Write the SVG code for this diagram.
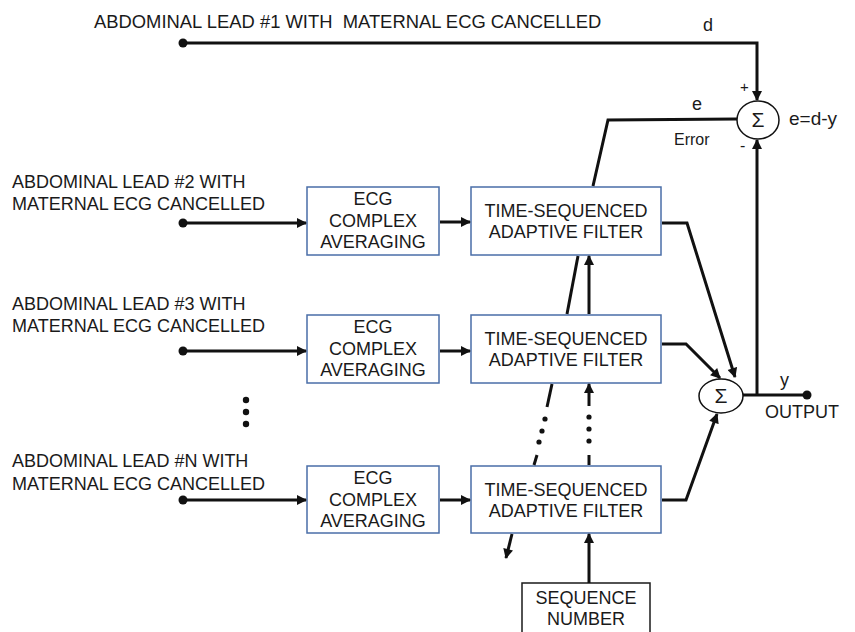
<svg xmlns="http://www.w3.org/2000/svg" width="855" height="632" viewBox="0 0 855 632">
<style>
text{font-family:"Liberation Sans",Arial,sans-serif;font-size:18px;fill:#1a1a1a}
.box{fill:#fff;stroke:#4a6ea8;stroke-width:1.5}
.sbox{fill:#fff;stroke:#1a1a1a;stroke-width:1.5}
.ln{fill:none;stroke:#111;stroke-width:3}
.arr{marker-end:url(#ah)}
.c{text-anchor:middle}
.sum{fill:#fff;stroke:#111;stroke-width:1.5}
.sig{font-size:21px}
</style>
<defs>
<marker id="ah" viewBox="0 0 10 10" refX="9" refY="5" markerWidth="11" markerHeight="10" markerUnits="userSpaceOnUse" orient="auto">
<path d="M0,0 L10,5 L0,10 z" fill="#111"/>
</marker>
</defs>
<rect width="855" height="632" fill="#fff"/>

<g id="lead1-label">
<text x="94" y="28" style="white-space:pre;font-size:18.4px">ABDOMINAL LEAD #1 WITH  MATERNAL ECG CANCELLED</text>
<text x="708" y="31" class="c">d</text>
</g>
<g id="lead2-label">
<text x="12" y="188">ABDOMINAL LEAD #2 WITH</text>
<text x="12" y="210">MATERNAL ECG CANCELLED</text>
</g>
<g id="lead3-label">
<text x="12" y="310">ABDOMINAL LEAD #3 WITH</text>
<text x="12" y="332">MATERNAL ECG CANCELLED</text>
</g>
<g id="ellipsis">
<circle cx="246" cy="400" r="3.2" fill="#111"/>
<circle cx="246" cy="412" r="3.2" fill="#111"/>
<circle cx="246" cy="424" r="3.2" fill="#111"/>
</g>
<g id="leadN-label">
<text x="12" y="467">ABDOMINAL LEAD #N WITH</text>
<text x="12" y="490">MATERNAL ECG CANCELLED</text>
</g>

<g id="avg1">
<rect class="box" x="307" y="187" width="132" height="68"/>
<text class="c" x="373" y="205">ECG</text>
<text class="c" x="373" y="227">COMPLEX</text>
<text class="c" x="373" y="248">AVERAGING</text>
</g>
<g id="avg2">
<rect class="box" x="307" y="315" width="132" height="68"/>
<text class="c" x="373" y="333">ECG</text>
<text class="c" x="373" y="355">COMPLEX</text>
<text class="c" x="373" y="376">AVERAGING</text>
</g>
<g id="avg3">
<rect class="box" x="307" y="466" width="132" height="67"/>
<text class="c" x="373" y="484">ECG</text>
<text class="c" x="373" y="506">COMPLEX</text>
<text class="c" x="373" y="527">AVERAGING</text>
</g>

<g id="filter1">
<rect class="box" x="471" y="187" width="190" height="68"/>
<text class="c" x="566" y="217">TIME-SEQUENCED</text>
<text class="c" x="566" y="238">ADAPTIVE FILTER</text>
</g>
<g id="filter2">
<rect class="box" x="471" y="315" width="190" height="68"/>
<text class="c" x="566" y="345">TIME-SEQUENCED</text>
<text class="c" x="566" y="366">ADAPTIVE FILTER</text>
</g>
<g id="filter3">
<rect class="box" x="471" y="466" width="190" height="67"/>
<text class="c" x="566" y="496">TIME-SEQUENCED</text>
<text class="c" x="566" y="517">ADAPTIVE FILTER</text>
</g>

<g id="seqnum">
<rect class="sbox" x="522" y="583" width="128" height="60"/>
<text class="c" x="586" y="604">SEQUENCE</text>
<text class="c" x="586" y="625">NUMBER</text>
</g>

<g id="connectors">
<polyline class="ln arr" points="183,43 757,43 757,100"/>
<circle cx="183" cy="43" r="4.5" fill="#111"/>
<line class="ln arr" x1="183" y1="223" x2="306" y2="223"/>
<circle cx="183" cy="223" r="4.5" fill="#111"/>
<line class="ln arr" x1="183" y1="351" x2="306" y2="351"/>
<circle cx="183" cy="351" r="4.5" fill="#111"/>
<line class="ln arr" x1="183" y1="500" x2="306" y2="500"/>
<circle cx="183" cy="500" r="4.5" fill="#111"/>
<line class="ln arr" x1="440" y1="222" x2="470" y2="222"/>
<line class="ln arr" x1="440" y1="351" x2="470" y2="351"/>
<line class="ln arr" x1="440" y1="500" x2="470" y2="500"/>
<polyline class="ln arr" points="662,223 687,223 735,377"/>
<polyline class="ln arr" points="662,344 686,344 720,378"/>
<polyline class="ln arr" points="662,500 686,500 717,414"/>
<line class="ln" x1="743" y1="395" x2="807" y2="395"/>
<circle cx="807" cy="395" r="4.5" fill="#111"/>
<line class="ln arr" x1="757" y1="395" x2="757" y2="140"/>
<polyline class="ln" points="737,119 608,120 593,186"/>
<line class="ln" x1="578" y1="256" x2="567" y2="314"/>
<line class="ln" x1="552" y1="384" x2="547" y2="407"/>
<circle cx="545" cy="419" r="2.6" fill="#111"/>
<circle cx="542" cy="431" r="2.6" fill="#111"/>
<circle cx="539" cy="442" r="2.6" fill="#111"/>
<line class="ln" x1="537" y1="455" x2="534" y2="465"/>
<line class="ln arr" x1="512" y1="534" x2="506" y2="558"/>
<line class="ln arr" x1="589" y1="583" x2="589" y2="534"/>
<line class="ln" x1="589" y1="465" x2="589" y2="455"/>
<circle cx="589" cy="441" r="2.6" fill="#111"/>
<circle cx="589" cy="429" r="2.6" fill="#111"/>
<circle cx="589" cy="417" r="2.6" fill="#111"/>
<line class="ln arr" x1="589" y1="406" x2="589" y2="384"/>
<line class="ln arr" x1="589" y1="314" x2="589" y2="256"/>
</g>

<g id="sum-error">
<ellipse class="sum" cx="758" cy="120" rx="21" ry="19"/>
<text class="c sig" x="758" y="127">Σ</text>
<text x="740" y="92" style="font-size:15px">+</text>
<text x="740" y="151" style="font-size:16px">-</text>
<text x="789" y="125" style="font-size:19px">e=d-y</text>
<text x="697" y="110" class="c">e</text>
<text x="674" y="145" style="font-size:16px">Error</text>
</g>

<g id="sum-output">
<ellipse class="sum" cx="721" cy="396" rx="22" ry="17"/>
<text class="c sig" x="721" y="403">Σ</text>
<text x="780" y="386">y</text>
<text x="765" y="418">OUTPUT</text>
</g>
</svg>
